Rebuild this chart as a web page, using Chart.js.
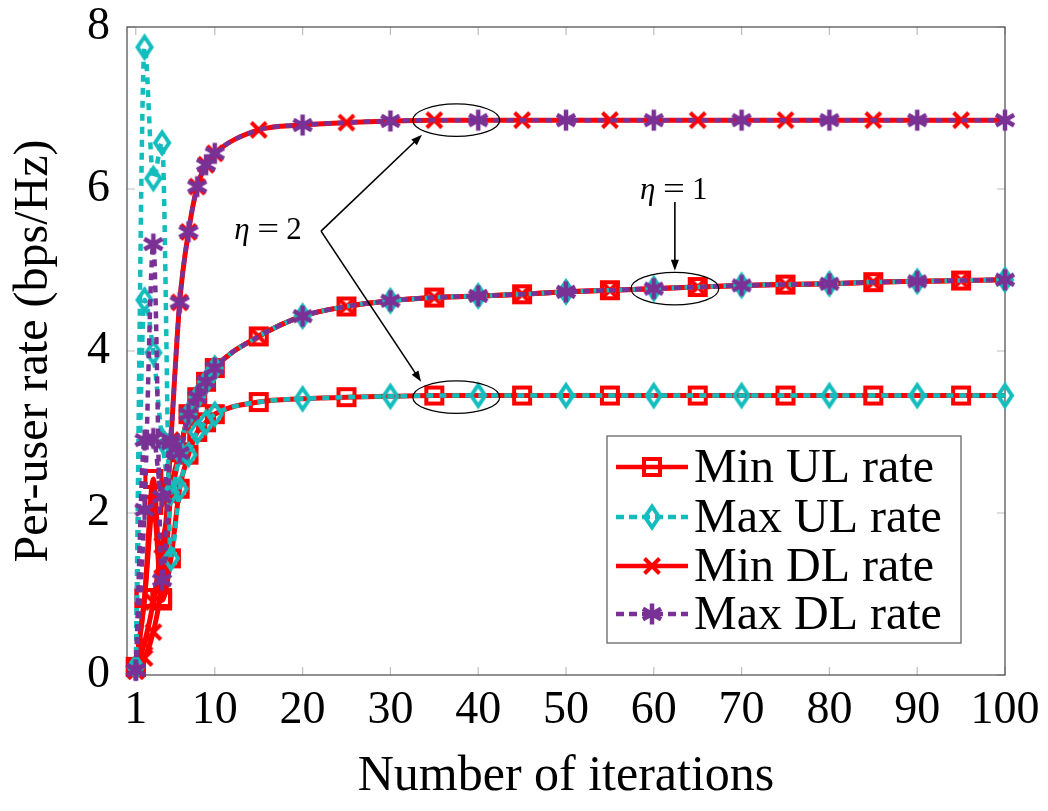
<!DOCTYPE html>
<html>
<head>
    <title>Per-user rate vs iterations</title>
    <script src="https://cdn.jsdelivr.net/npm/chart.js"></script>
    <style>
        body { margin: 0; background: #fff; }
        canvas { display: block; }
    </style>
</head>
<body>
    <canvas id="rateChart" width="1048" height="811"></canvas>

    <script>
        // iteration index (x) and tick labels
        const iterations = [1, 2, 3, 4, 5, 6, 7, 8, 9, 10, 15, 20, 25, 30, 35, 40, 45, 50, 55, 60, 65, 70, 75, 80, 85, 90, 95, 100];
        const xTickValues = [1, 10, 20, 30, 40, 50, 60, 70, 80, 90, 100];

        // eta = 2
        const minULEta2 = [0.10, 0.95, 2.42, 0.92, 1.44, 2.30, 2.72, 3.00, 3.12, 3.22, 3.37, 3.41, 3.43, 3.44, 3.45, 3.45, 3.45, 3.45, 3.45, 3.45, 3.45, 3.45, 3.45, 3.45, 3.45, 3.45, 3.45, 3.45];
        const maxULEta2 = [0.10, 7.75, 6.13, 6.57, 1.44, 2.30, 2.72, 3.00, 3.12, 3.22, 3.37, 3.41, 3.43, 3.44, 3.45, 3.45, 3.45, 3.45, 3.45, 3.45, 3.45, 3.45, 3.45, 3.45, 3.45, 3.45, 3.45, 3.45];
        const minDLEta2 = [0.05, 0.21, 0.53, 1.20, 2.90, 4.60, 5.47, 6.03, 6.30, 6.44, 6.73, 6.79, 6.82, 6.84, 6.85, 6.85, 6.85, 6.85, 6.85, 6.85, 6.85, 6.85, 6.85, 6.85, 6.85, 6.85, 6.85, 6.85];
        const maxDLEta2 = [0.06, 2.04, 5.32, 1.17, 2.90, 4.60, 5.47, 6.03, 6.30, 6.44, 6.73, 6.79, 6.82, 6.84, 6.85, 6.85, 6.85, 6.85, 6.85, 6.85, 6.85, 6.85, 6.85, 6.85, 6.85, 6.85, 6.85, 6.85];

        // eta = 1
        const minULEta1 = [0.10, 0.95, 2.10, 0.95, 2.25, 2.75, 3.22, 3.43, 3.62, 3.79, 4.18, 4.43, 4.55, 4.62, 4.66, 4.68, 4.70, 4.73, 4.75, 4.77, 4.79, 4.81, 4.82, 4.83, 4.85, 4.86, 4.87, 4.88];
        const maxULEta1 = [0.10, 4.63, 3.98, 2.90, 2.25, 2.75, 3.22, 3.43, 3.62, 3.79, 4.18, 4.43, 4.55, 4.62, 4.66, 4.68, 4.70, 4.73, 4.75, 4.77, 4.79, 4.81, 4.82, 4.83, 4.85, 4.86, 4.87, 4.88];
        const minDLEta1 = [0.05, 0.40, 0.90, 1.60, 2.20, 2.74, 3.22, 3.43, 3.62, 3.79, 4.18, 4.43, 4.55, 4.62, 4.66, 4.68, 4.70, 4.73, 4.75, 4.77, 4.79, 4.81, 4.82, 4.83, 4.85, 4.86, 4.87, 4.88];
        const maxDLEta1 = [0.06, 2.90, 2.92, 2.20, 2.86, 2.74, 3.22, 3.43, 3.62, 3.79, 4.18, 4.43, 4.55, 4.62, 4.66, 4.68, 4.70, 4.73, 4.75, 4.77, 4.79, 4.81, 4.82, 4.83, 4.85, 4.86, 4.87, 4.88];

        const legendLabels = ['Min UL rate', 'Max UL rate', 'Min DL rate', 'Max DL rate'];

        // annotation marks in data units
        const ellipses = [
            { x: 37.5, y: 6.85, rx: 4.95, ry: 0.2 },
            { x: 37.5, y: 3.43, rx: 4.95, ry: 0.2 },
            { x: 62.4, y: 4.77, rx: 5.0, ry: 0.2 }
        ];
        const arrows = [
            { x1: 22.1, y1: 5.48, x2: 33.6, y2: 6.67 },
            { x1: 22.1, y1: 5.48, x2: 33.5, y2: 3.62 },
            { x1: 62.4, y1: 5.84, x2: 62.4, y2: 4.99 }
        ];
        const etaLabels = [
            { x: 16.1, y: 5.49, value: '2' },
            { x: 62.3, y: 5.99, value: '1' }
        ];

        const RED = '#ff0000';
        const CYAN = '#13bdbd';
        const PURPLE = '#7a3195';
        const SERIF = '"Liberation Serif", "DejaVu Serif", serif';

        function makeMarker(kind, color) {
            const c = document.createElement('canvas');
            c.width = 32; c.height = 32;
            const g = c.getContext('2d');
            g.strokeStyle = color;
            g.lineWidth = 4;
            g.translate(16, 16);
            g.beginPath();
            if (kind === 'square') {
                g.rect(-8, -8, 16, 16);
            } else if (kind === 'diamond') {
                g.moveTo(0, -10.5); g.lineTo(7, 0); g.lineTo(0, 10.5); g.lineTo(-7, 0); g.closePath();
            } else if (kind === 'cross') {
                g.moveTo(-7.5, -7.5); g.lineTo(7.5, 7.5); g.moveTo(7.5, -7.5); g.lineTo(-7.5, 7.5);
            } else if (kind === 'star') {
                g.lineWidth = 4.5;
                [90, 30, 150].forEach(a => {
                    const r = a * Math.PI / 180;
                    g.moveTo(-10.5 * Math.cos(r), -10.5 * Math.sin(r));
                    g.lineTo(10.5 * Math.cos(r), 10.5 * Math.sin(r));
                });
            }
            g.stroke();
            return c;
        }

        const markers = {
            square: makeMarker('square', RED),
            diamond: makeMarker('diamond', CYAN),
            cross: makeMarker('cross', RED),
            star: makeMarker('star', PURPLE)
        };

        // styles for the four legend series
        const styles = [
            { color: RED, dash: [], width: 5, marker: markers.square, phase: 1, order: 3 },
            { color: CYAN, dash: [7, 6], width: 4.5, marker: markers.diamond, phase: 0, order: 1 },
            { color: RED, dash: [], width: 5, marker: markers.cross, phase: 1, order: 2 },
            { color: PURPLE, dash: [7, 6], width: 4.5, marker: markers.star, phase: 0, order: 0 }
        ];

        function series(values, styleIndex, label) {
            const s = styles[styleIndex];
            return {
                label: label,
                data: values.map((v, i) => ({ x: iterations[i], y: v })),
                borderColor: s.color,
                backgroundColor: s.color,
                borderWidth: s.width,
                borderDash: s.dash,
                pointStyle: s.marker,
                pointRadius: ctx => {
                    const x = iterations[ctx.dataIndex];
                    if (x <= 10) return 5;
                    return ((x / 5) % 2 === s.phase) ? 5 : 0;
                },
                pointHoverRadius: 0,
                cubicInterpolationMode: 'monotone',
                order: s.order,
                clip: false
            };
        }

        const datasets = [
            series(minULEta2, 0, 'Min UL rate'),
            series(maxULEta2, 1, 'Max UL rate'),
            series(minDLEta2, 2, 'Min DL rate'),
            series(maxDLEta2, 3, 'Max DL rate'),
            series(minULEta1, 0, 'Min UL rate (eta=1)'),
            series(maxULEta1, 1, 'Max UL rate (eta=1)'),
            series(minDLEta1, 2, 'Min DL rate (eta=1)'),
            series(maxDLEta1, 3, 'Max DL rate (eta=1)')
        ];

        // frame, inner tick marks, annotations and legend
        const decorPlugin = {
            id: 'decor',
            beforeDatasetsDraw(chart) {
                const { ctx, chartArea: a, scales: { x, y } } = chart;
                ctx.save();
                ctx.strokeStyle = '#bdbdbd';
                ctx.lineWidth = 1.2;
                ctx.beginPath();
                xTickValues.forEach(v => {
                    const px = x.getPixelForValue(v);
                    ctx.moveTo(px, a.bottom); ctx.lineTo(px, a.bottom - 8);
                    ctx.moveTo(px, a.top); ctx.lineTo(px, a.top + 8);
                });
                y.ticks.forEach(t => {
                    const py = y.getPixelForValue(t.value);
                    ctx.moveTo(a.left, py); ctx.lineTo(a.left + 8, py);
                    ctx.moveTo(a.right, py); ctx.lineTo(a.right - 8, py);
                });
                ctx.stroke();
                ctx.strokeStyle = '#555';
                ctx.lineWidth = 1.3;
                ctx.strokeRect(a.left, a.top, a.right - a.left, a.bottom - a.top);
                ctx.restore();
            },
            afterDatasetsDraw(chart) {
                const { ctx, scales: { x, y } } = chart;
                ctx.save();
                ctx.strokeStyle = '#000';
                ctx.fillStyle = '#000';
                ctx.lineWidth = 1.2;
                ellipses.forEach(e => {
                    const cx = x.getPixelForValue(e.x), cy = y.getPixelForValue(e.y);
                    const rx = x.getPixelForValue(e.x + e.rx) - cx;
                    const ry = cy - y.getPixelForValue(e.y + e.ry);
                    ctx.beginPath();
                    ctx.ellipse(cx, cy, rx, ry, 0, 0, Math.PI * 2);
                    ctx.stroke();
                });
                ctx.lineWidth = 1.6;
                arrows.forEach(ar => {
                    const x1 = x.getPixelForValue(ar.x1), y1 = y.getPixelForValue(ar.y1);
                    const x2 = x.getPixelForValue(ar.x2), y2 = y.getPixelForValue(ar.y2);
                    const ang = Math.atan2(y2 - y1, x2 - x1);
                    ctx.beginPath();
                    ctx.moveTo(x1, y1);
                    ctx.lineTo(x2 - 8 * Math.cos(ang), y2 - 8 * Math.sin(ang));
                    ctx.stroke();
                    ctx.beginPath();
                    ctx.moveTo(x2, y2);
                    ctx.lineTo(x2 - 11 * Math.cos(ang) + 4 * Math.sin(ang), y2 - 11 * Math.sin(ang) - 4 * Math.cos(ang));
                    ctx.lineTo(x2 - 11 * Math.cos(ang) - 4 * Math.sin(ang), y2 - 11 * Math.sin(ang) + 4 * Math.cos(ang));
                    ctx.closePath();
                    ctx.fill();
                });
                ctx.textBaseline = 'alphabetic';
                ctx.textAlign = 'left';
                etaLabels.forEach(l => {
                    const cx = x.getPixelForValue(l.x), cy = y.getPixelForValue(l.y);
                    const left = cx - 34, base = cy + 9;
                    ctx.font = 'italic 31px ' + SERIF;
                    ctx.fillText('\u03B7', left, base);
                    ctx.font = '31px ' + SERIF;
                    ctx.save();
                    ctx.translate(left + 23, base);
                    ctx.scale(1.25, 1);
                    ctx.fillText('=', 0, 0);
                    ctx.restore();
                    ctx.fillText(l.value, left + 52, base);
                });
                ctx.restore();
            },
            afterDraw(chart) {
                const { ctx } = chart;
                const box = { left: 607, top: 436, right: 961, bottom: 643 };
                const rows = [467, 517, 566, 614];
                ctx.save();
                ctx.fillStyle = '#fff';
                ctx.fillRect(box.left, box.top, box.right - box.left, box.bottom - box.top);
                ctx.strokeStyle = '#666';
                ctx.lineWidth = 1.3;
                ctx.strokeRect(box.left, box.top, box.right - box.left, box.bottom - box.top);
                legendLabels.forEach((label, i) => {
                    const s = styles[i];
                    const yy = rows[i];
                    ctx.strokeStyle = s.color;
                    ctx.lineWidth = 4.5;
                    ctx.setLineDash(s.dash.length ? [8, 5] : []);
                    ctx.beginPath();
                    ctx.moveTo(616, yy); ctx.lineTo(688, yy);
                    ctx.stroke();
                    ctx.setLineDash([]);
                    ctx.drawImage(s.marker, 652 - s.marker.width / 2, yy - s.marker.height / 2);
                    ctx.fillStyle = '#000';
                    ctx.font = '48px ' + SERIF;
                    ctx.textAlign = 'left';
                    ctx.textBaseline = 'middle';
                    ctx.fillText(label, 694, yy + 2);
                });
                ctx.restore();
            }
        };

        new Chart(document.getElementById('rateChart').getContext('2d'), {
            type: 'line',
            data: { datasets: datasets },
            options: {
                responsive: false,
                animation: false,
                events: [],
                layout: { padding: { left: 0, top: 27, right: 43, bottom: 0 } },
                plugins: {
                    legend: { display: false },
                    tooltip: { enabled: false }
                },
                scales: {
                    x: {
                        type: 'linear',
                        min: 0,
                        max: 100,
                        afterBuildTicks: scale => {
                            scale.ticks = xTickValues.map(v => ({ value: v }));
                        },
                        afterFit: scale => { scale.height = 136; },
                        grid: { display: false, drawTicks: false },
                        border: { display: false },
                        ticks: {
                            color: '#000',
                            padding: 8,
                            maxRotation: 0,
                            autoSkip: false,
                            font: { family: SERIF, size: 46 }
                        },
                        title: {
                            display: true,
                            text: 'Number of iterations',
                            color: '#000',
                            font: { family: SERIF, size: 50 },
                            padding: { top: 0, bottom: 4 }
                        }
                    },
                    y: {
                        min: 0,
                        max: 8,
                        afterFit: scale => {
                            scale.width = 127;
                            scale.paddingTop = 0;
                            scale.paddingBottom = 0;
                        },
                        grid: { display: false, drawTicks: false },
                        border: { display: false },
                        ticks: {
                            stepSize: 2,
                            color: '#000',
                            padding: 17,
                            font: { family: SERIF, size: 46 }
                        },
                        title: {
                            display: true,
                            text: 'Per-user rate (bps/Hz)',
                            color: '#000',
                            font: { family: SERIF, size: 48 },
                            padding: { top: 6, bottom: 0 }
                        }
                    }
                }
            },
            plugins: [decorPlugin]
        });
    </script>
</body>
</html>
